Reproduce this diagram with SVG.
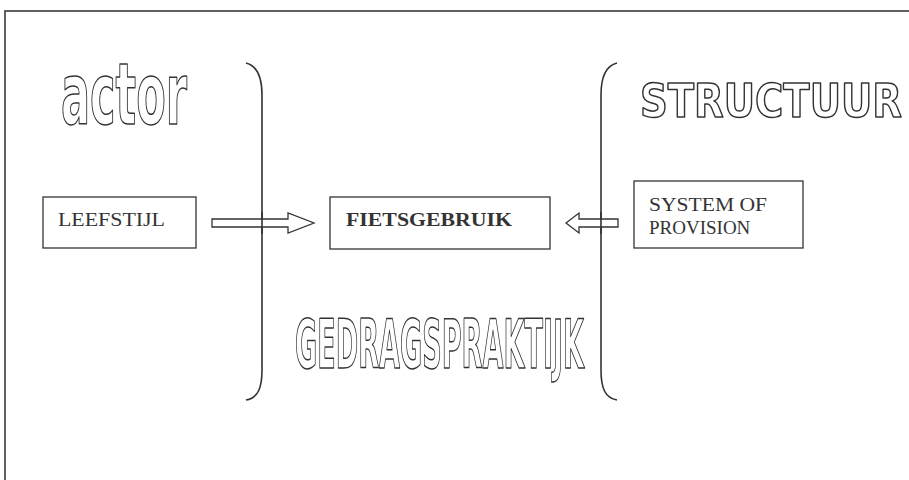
<svg xmlns="http://www.w3.org/2000/svg" width="909" height="480" viewBox="0 0 909 480">
<defs>
<filter id="gray" x="-0.1" y="-0.2" width="1.2" height="1.4"><feOffset dx="0" dy="0"/></filter>
</defs>
<style>
.frame{fill:none;stroke:#3a3a3a;stroke-width:1.6}
.box{fill:#fff;stroke:#333;stroke-width:1.3}
.lbl{font-family:"Liberation Serif","Times New Roman",serif;fill:#333;font-size:19px}
.hollow{font-family:"DejaVu Sans Condensed","DejaVu Sans","Liberation Sans",sans-serif;font-weight:bold;fill:#fff;stroke:#333;stroke-width:1.5;stroke-linejoin:round}
.brk{fill:none;stroke:#333;stroke-width:1.6}
.arr{fill:#fff;stroke:#333;stroke-width:1.3;stroke-linejoin:miter}
</style>
<rect width="909" height="480" fill="#fff"/>
<rect class="frame" x="5" y="11" width="920" height="490"/>
<g id="brackets">
<path class="brk" d="M246,63 C258,66 262,78 262,95 L262,370 C262,388 258,398 246,400"/>
<path class="brk" d="M617,63 C605,66 601,78 601,95 L601,370 C601,388 605,398 617,400"/>
</g>
<g id="actor" filter="url(#gray)"><text class="hollow" x="61" y="124" font-size="86" textLength="126" lengthAdjust="spacingAndGlyphs">actor</text></g>
<g id="structuur" filter="url(#gray)"><text class="hollow" x="640" y="117" font-size="46" textLength="262" lengthAdjust="spacingAndGlyphs">STRUCTUUR</text></g>
<g id="gedragspraktijk" filter="url(#gray)"><text class="hollow" x="295" y="368" font-size="68" textLength="289" lengthAdjust="spacingAndGlyphs">GEDRAGSPRAKTIJK</text></g>
<g id="leefstijl">
<rect class="box" x="43" y="197" width="153" height="51"/>
<text class="lbl" x="58" y="226" textLength="107" lengthAdjust="spacingAndGlyphs">LEEFSTIJL</text>
</g>
<g id="fietsgebruik">
<rect class="box" x="330" y="197" width="220" height="52"/>
<text class="lbl" x="346" y="226" font-weight="bold" textLength="166" lengthAdjust="spacingAndGlyphs">FIETSGEBRUIK</text>
</g>
<g id="system-of-provision">
<rect class="box" x="634" y="181" width="169" height="67"/>
<text class="lbl" x="649" y="211" textLength="118" lengthAdjust="spacingAndGlyphs">SYSTEM OF</text>
<text class="lbl" x="649" y="234">PROVISION</text>
</g>
<g id="connectors">
<path class="arr" d="M212,219 L288,219 L288,213 L314,223 L288,233 L288,227 L212,227 Z"/>
<path class="arr" d="M618,219 L579,219 L579,213 L566,223 L579,233 L579,227 L618,227 Z"/>
</g>
<line x1="262" y1="212" x2="262" y2="234" stroke="#333" stroke-width="1.6"/>
<line x1="601" y1="212" x2="601" y2="234" stroke="#333" stroke-width="1.6"/>
</svg>
